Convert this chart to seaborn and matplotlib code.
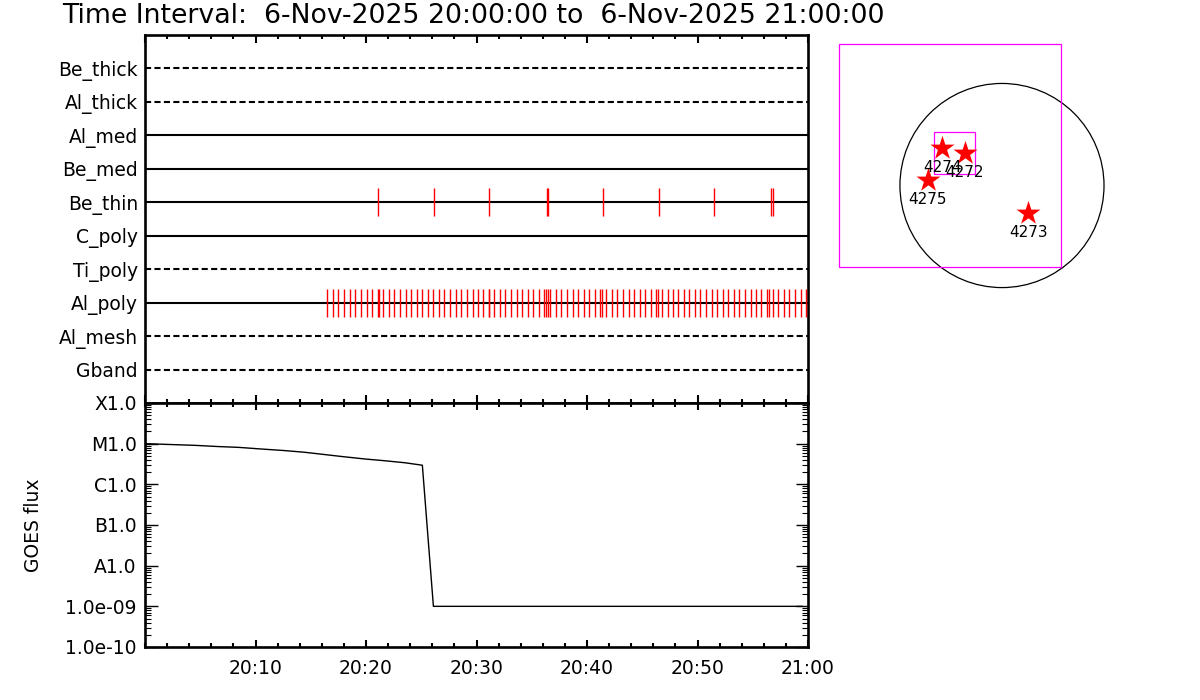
import numpy as np
import pandas as pd
import matplotlib
matplotlib.use("Agg")
import matplotlib.pyplot as plt
import seaborn as sns
from matplotlib.patches import Circle, Rectangle
from matplotlib.ticker import MultipleLocator, FixedLocator, LogLocator, NullFormatter

# ---------------- data ----------------
title_text = "Time Interval:  6-Nov-2025 20:00:00 to  6-Nov-2025 21:00:00"

filters = ["Be_thick", "Al_thick", "Al_med", "Be_med", "Be_thin",
           "C_poly", "Ti_poly", "Al_poly", "Al_mesh", "Gband"]
filter_dashed = [True, True, False, False, False, False, True, False, True, True]

# exposure times, minutes after 20:00
be_thin_min = [21.12, 26.18, 31.16, 36.35, 36.50, 41.48, 46.54, 51.52, 56.61, 56.83]
al_poly_min = [16.50, 17.01, 17.49, 18.01, 18.52, 19.03, 19.55, 20.06, 20.57, 21.06,
               21.15, 21.57, 22.05, 22.56, 23.08, 23.59, 24.07, 24.59, 25.10, 25.61,
               26.09, 26.61, 27.10, 27.57, 28.12, 28.62, 29.11, 29.64, 30.11, 30.62,
               31.09, 31.16, 31.61, 32.13, 32.61, 33.12, 33.64, 34.14, 34.66, 35.14,
               35.63, 36.14, 36.26, 36.44, 36.68, 37.17, 37.65, 38.22, 38.69, 39.20,
               39.70, 40.21, 40.70, 41.22, 41.34, 41.76, 42.24, 42.76, 43.28, 43.76,
               44.25, 44.77, 45.28, 45.76, 46.27, 46.40, 46.77, 47.29, 47.76, 48.28,
               48.75, 49.26, 49.75, 50.25, 50.77, 51.27, 51.79, 52.28, 52.79, 53.30,
               53.78, 54.30, 54.80, 55.31, 55.79, 56.32, 56.47, 56.81, 57.31, 57.83,
               58.31, 58.82, 59.34, 59.82]

goes_min = [0.0, 4.5, 6.6, 8.5, 10.5, 12.5, 14.3, 16.0, 17.9, 19.9, 21.7, 23.5,
            25.1, 26.1, 59.5]
goes_flux = [1.0e-5, 9.1e-6, 8.5e-6, 8.1e-6, 7.4e-6, 6.8e-6, 6.2e-6, 5.5e-6,
             4.8e-6, 4.2e-6, 3.8e-6, 3.4e-6, 2.95e-6, 1.0e-9, 1.0e-9]

goes_ticks = [1e-10, 1e-9, 1e-8, 1e-7, 1e-6, 1e-5, 1e-4]
goes_tick_labels = ["1.0e-10", "1.0e-09", "A1.0", "B1.0", "C1.0", "M1.0", "X1.0"]

time_ticks = [10, 20, 30, 40, 50, 60]
time_labels = ["20:10", "20:20", "20:30", "20:40", "20:50", "21:00"]

# active regions, arcsec from disk centre
ar_numbers = ["4272", "4273", "4274", "4275"]
ar_x = [-352, 250, -570, -706]
ar_y = [312, -259, 354, 52]

sun_radius = 970
fov_outer = [-1550, -775, 2111, 2120]   # x0, y0, width, height (arcsec)
fov_inner = [-646, 109, 389, 400]

# ---------------- style ----------------
sns.set_style("white")
plt.rcParams['font.family'] = ['DejaVu Sans']
plt.rcParams['lines.scale_dashes'] = False
for k in ['text.color', 'axes.labelcolor', 'xtick.color', 'ytick.color', 'axes.edgecolor']:
    plt.rcParams[k] = 'black'

W, H = 1200, 700
fig = plt.figure(figsize=(12, 7), dpi=100)

def px_axes(l, t, r, b):
    return fig.add_axes([l / W, 1 - b / H, (r - l) / W, (b - t) / H])

FS = 13.5
SPW = 1.9

# ---------------- filter timeline panel ----------------
ax1 = px_axes(145, 35, 808, 403)
ax1.set_xlim(0, 60)
ax1.set_ylim(len(filters), -1)
for i, (name, dashed) in enumerate(zip(filters, filter_dashed)):
    ls = (0, (4.4, 2.4)) if dashed else '-'
    ax1.hlines(i, 0, 60, colors='black', linewidth=1.5, linestyles=[ls], zorder=2)
row_be_thin = filters.index("Be_thin")
row_al_poly = filters.index("Al_poly")
ax1.vlines(be_thin_min, row_be_thin - 0.42, row_be_thin + 0.42, colors='red',
           linewidth=1.0, zorder=3)
ax1.vlines(al_poly_min, row_al_poly - 0.42, row_al_poly + 0.42, colors='red',
           linewidth=1.0, zorder=3)
ax1.set_yticks(range(len(filters)))
ax1.set_yticklabels(filters, fontsize=FS)
ax1.tick_params(axis='y', length=0, pad=5)
ax1.xaxis.set_major_locator(MultipleLocator(10))
ax1.xaxis.set_minor_locator(MultipleLocator(2))
ax1.tick_params(axis='x', which='both', direction='in', top=True, bottom=True,
                labelbottom=False, labeltop=False)
ax1.tick_params(axis='x', which='major', length=5.5, width=1.5)
ax1.tick_params(axis='x', which='minor', length=3, width=1.5)
for s in ax1.spines.values():
    s.set_linewidth(SPW)
    s.set_color('black')

# ---------------- GOES panel ----------------
ax2 = px_axes(145, 403, 808, 647)
goes_df = pd.DataFrame({"t": goes_min, "flux": goes_flux})
ax2.set_yscale('log')
sns.lineplot(data=goes_df, x="t", y="flux", ax=ax2, color='black', linewidth=1.0,
             estimator=None, sort=False)
ax2.set_xlim(0, 60)
ax2.set_ylim(1e-10, 1e-4)
ax2.set_xlabel("")
ax2.set_ylabel("GOES flux", fontsize=FS, labelpad=16)
ax2.set_xticks(time_ticks)
ax2.set_xticklabels(time_labels, fontsize=FS)
ax2.xaxis.set_minor_locator(MultipleLocator(2))
ax2.tick_params(axis='x', which='both', direction='in', top=True, bottom=True, pad=9)
ax2.tick_params(axis='x', which='major', length=5, width=1.5)
ax2.tick_params(axis='x', which='minor', length=3, width=1.5)
ax2.yaxis.set_major_locator(FixedLocator(goes_ticks))
ax2.set_yticklabels(goes_tick_labels, fontsize=FS)
ax2.yaxis.set_minor_locator(LogLocator(base=10, subs=np.arange(2, 10), numticks=20))
ax2.yaxis.set_minor_formatter(NullFormatter())
ax2.tick_params(axis='y', which='both', direction='in', left=True, right=True, pad=6)
ax2.tick_params(axis='y', which='major', length=9, width=1.0)
ax2.tick_params(axis='y', which='minor', length=4.5, width=0.8)
ax2.grid(False)
for s in ax2.spines.values():
    s.set_linewidth(SPW)
    s.set_color('black')

# ---------------- Sun / FOV panel ----------------
ax3 = px_axes(830, 30, 1120, 300)
ax3.set_xlim(-1635, 1122)
ax3.set_ylim(-1088, 1478)
ax3.add_patch(Circle((0, 0), sun_radius, fill=False, edgecolor='black', linewidth=0.9))
ax3.add_patch(Rectangle((fov_outer[0], fov_outer[1]), fov_outer[2], fov_outer[3],
                        fill=False, edgecolor='#ff00ff', linewidth=0.9))
ax3.add_patch(Rectangle((fov_inner[0], fov_inner[1]), fov_inner[2], fov_inner[3],
                        fill=False, edgecolor='#ff00ff', linewidth=0.9))
ar_df = pd.DataFrame({"x": ar_x, "y": ar_y, "num": ar_numbers})
sns.scatterplot(data=ar_df, x="x", y="y", ax=ax3, marker='*', s=330, color='red',
                linewidth=0, zorder=4)
for xx, yy, nn in zip(ar_x, ar_y, ar_numbers):
    ax3.text(xx, yy - 185, nn, ha='center', va='center', fontsize=11, color='black',
             zorder=5)
ax3.set_xlabel("")
ax3.set_ylabel("")
ax3.set_xticks([])
ax3.set_yticks([])
for s in ax3.spines.values():
    s.set_visible(False)
ax3.patch.set_alpha(0)

# ---------------- title ----------------
fig.text(62 / W, 1 - 16 / H, title_text, fontsize=19.3, ha='left', va='center')

fig.savefig("out.png", dpi=100, facecolor='white')
